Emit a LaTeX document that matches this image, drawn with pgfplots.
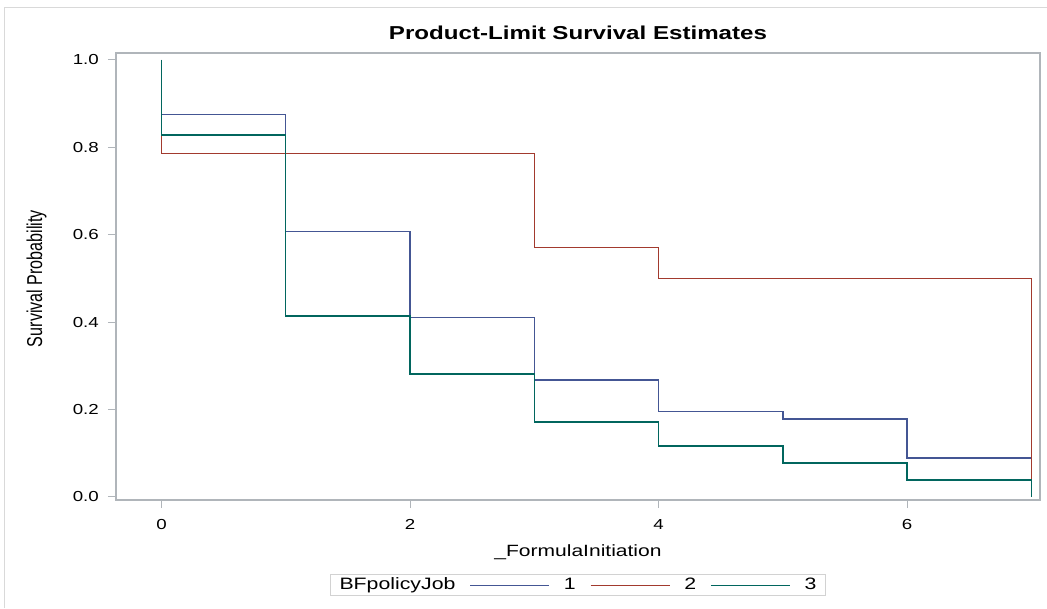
\documentclass[border=0pt]{standalone}
\usepackage{fontspec}
\setmainfont{Liberation Sans}[FakeStretch=1.29]
\newfontfamily\ylabfont{Liberation Sans}[FakeStretch=0.75]
\usepackage{pgfplots}
\pgfplotsset{compat=1.18}
\definecolor{sasblue}{HTML}{445694}
\definecolor{sasred}{HTML}{A23A2E}
\definecolor{sasgreen}{HTML}{01665E}
\definecolor{axgray}{HTML}{B0B5BA}
\pgfplotsset{kmline/.style={const plot mark left, line width=1.5pt, mark=none,
  legend image code/.code={\draw[##1, line width=1.5pt] (0pt,0pt) -- (79pt,0pt);}}}
\begin{document}
\begin{tikzpicture}
\path[use as bounding box] (0pt,0pt) rectangle (1047pt,608pt);
\draw[gray!30, line width=1pt] (4pt,0pt) -- (4pt,600pt) -- (1047pt,600pt);
\begin{axis}[
  at={(116pt,108pt)}, anchor=south west,
  scale only axis, width=924pt, height=447pt,
  xmin=-0.366, xmax=7.07, ymin=-0.0069, ymax=1.016,
  xtick={0,2,4,6}, ytick={0,0.2,0.4,0.6,0.8,1},
  xtick pos=bottom, ytick pos=left,
  tick align=outside, major tick length=8pt,
  tick style={draw=axgray, line width=1pt},
  axis line style={draw=axgray, line width=1.2pt},
  /pgf/number format/assume math mode=true,
  yticklabel style={/pgf/number format/fixed, /pgf/number format/fixed zerofill, /pgf/number format/precision=1, inner xsep=9pt},
  ticklabel style={font=\fontsize{14.5}{17}\selectfont},
  xticklabel style={inner ysep=11pt},
  legend style={at={(0.5,-0.191)}, anchor=center, draw=gray!35, line width=0.8pt,
    legend columns=-1, font=\fontsize{16.5}{19}\selectfont,
    inner xsep=8pt, inner ysep=2pt,
    nodes={inner sep=1pt, text depth=3pt, text height=12pt},
    /tikz/every odd column/.append style={column sep=13pt},
    /tikz/every even column/.append style={column sep=13pt}},
]
\addlegendimage{empty legend}
\addlegendentry{\hspace{-13pt}BFpolicyJob\hspace{29pt}}
\addplot[kmline, draw=sasblue] coordinates {
 (0,1) (0,0.875) (1,0.607) (2,0.411) (3,0.268) (4,0.196) (5,0.178) (6,0.089) (7,0.089)};
\addlegendentry{1}
\addplot[kmline, draw=sasred] coordinates {
 (0,1) (0,0.786) (3,0.571) (4,0.5) (7,0)};
\addlegendentry{2}
\addplot[kmline, draw=sasgreen] coordinates {
 (0,1) (0,0.828) (1,0.414) (2,0.282) (3,0.172) (4,0.117) (5,0.078) (6,0.039) (7,0)};
\addlegendentry{3}
\end{axis}
\node[anchor=base, font=\fontsize{18.7}{22}\selectfont\bfseries] at (578pt,568pt) {Product-Limit Survival Estimates};
\node[anchor=base, font=\fontsize{16.3}{19}\selectfont] at (578pt,52pt) {\_FormulaInitiation};
\node[anchor=base, rotate=90, font=\ylabfont\fontsize{21.5}{24}\selectfont] at (42pt,329.5pt) {Survival Probability};
\end{tikzpicture}
\end{document}
